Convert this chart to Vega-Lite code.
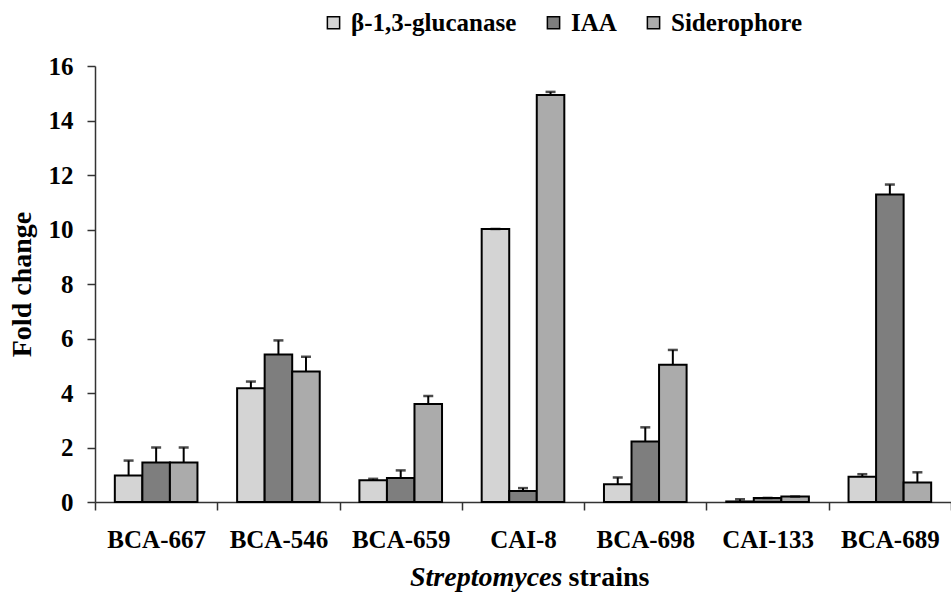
{
  "$schema": "https://vega.github.io/schema/vega-lite/v6.json",
  "width": 856,
  "height": 436,
  "autosize": {"type": "none"},
  "padding": {"left": 95, "top": 66, "right": 0, "bottom": 98},
  "background": "white",
  "title": {
    "text": "Streptomyces",
    "orient": "bottom",
    "anchor": "start",
    "frame": "group",
    "dx": 315,
    "offset": -5,
    "baseline": "alphabetic",
    "font": "Liberation Serif, Times New Roman, serif",
    "fontSize": 28,
    "fontStyle": "italic",
    "fontWeight": "bold",
    "color": "black"
  },
  "data": {
    "values": [
      {"strain": "BCA-667", "type": "β-1,3-glucanase", "value": 0.97, "err": 1.52},
      {"strain": "BCA-667", "type": "IAA", "value": 1.45, "err": 2.0},
      {"strain": "BCA-667", "type": "Siderophore", "value": 1.45, "err": 2.0},
      {"strain": "BCA-546", "type": "β-1,3-glucanase", "value": 4.17, "err": 4.42},
      {"strain": "BCA-546", "type": "IAA", "value": 5.41, "err": 5.93},
      {"strain": "BCA-546", "type": "Siderophore", "value": 4.79, "err": 5.33},
      {"strain": "BCA-659", "type": "β-1,3-glucanase", "value": 0.8, "err": 0.85},
      {"strain": "BCA-659", "type": "IAA", "value": 0.88, "err": 1.16},
      {"strain": "BCA-659", "type": "Siderophore", "value": 3.6, "err": 3.89},
      {"strain": "CAI-8", "type": "β-1,3-glucanase", "value": 10.02, "err": 10.02},
      {"strain": "CAI-8", "type": "IAA", "value": 0.4, "err": 0.51},
      {"strain": "CAI-8", "type": "Siderophore", "value": 14.94, "err": 15.05},
      {"strain": "BCA-698", "type": "β-1,3-glucanase", "value": 0.65, "err": 0.9},
      {"strain": "BCA-698", "type": "IAA", "value": 2.22, "err": 2.74},
      {"strain": "BCA-698", "type": "Siderophore", "value": 5.04, "err": 5.58},
      {"strain": "CAI-133", "type": "β-1,3-glucanase", "value": 0.02, "err": 0.1},
      {"strain": "CAI-133", "type": "IAA", "value": 0.15, "err": 0.15},
      {"strain": "CAI-133", "type": "Siderophore", "value": 0.2, "err": 0.2},
      {"strain": "BCA-689", "type": "β-1,3-glucanase", "value": 0.93, "err": 1.02},
      {"strain": "BCA-689", "type": "IAA", "value": 11.28, "err": 11.65},
      {"strain": "BCA-689", "type": "Siderophore", "value": 0.72, "err": 1.09}
    ]
  },
  "encoding": {
    "x": {
      "field": "strain",
      "type": "nominal",
      "sort": ["BCA-667", "BCA-546", "BCA-659", "CAI-8", "BCA-698", "CAI-133", "BCA-689"],
      "scale": {"paddingInner": 0, "paddingOuter": 0},
      "axis": {
        "title": "strains",
        "titleX": 473,
        "titleY": 83,
        "titleAlign": "left",
        "titleBaseline": "alphabetic",
        "titleFont": "Liberation Serif, Times New Roman, serif",
        "titleFontSize": 28,
        "titleFontWeight": "bold",
        "titleColor": "black",
        "labelAngle": 0,
        "labelFont": "Liberation Serif, Times New Roman, serif",
        "labelFontSize": 25,
        "labelFontWeight": "bold",
        "labelColor": "black",
        "labelPadding": 17,
        "labelLimit": 300,
        "tickBand": "extent",
        "tickSize": 8,
        "tickColor": "#333",
        "tickWidth": 1.5,
        "domainColor": "#333",
        "domainWidth": 1.5
      }
    },
    "xOffset": {
      "field": "type",
      "type": "nominal",
      "sort": ["β-1,3-glucanase", "IAA", "Siderophore"],
      "scale": {"paddingInner": 0, "paddingOuter": 0.72}
    }
  },
  "layer": [
    {
      "mark": {"type": "bar", "stroke": "black", "strokeWidth": 2},
      "encoding": {
        "y": {
          "field": "value",
          "type": "quantitative",
          "scale": {"domain": [0, 16], "nice": false},
          "axis": {
            "values": [0, 2, 4, 6, 8, 10, 12, 14, 16],
            "title": "Fold change",
            "titleFont": "Liberation Serif, Times New Roman, serif",
            "titleFontSize": 28,
            "titleFontWeight": "bold",
            "titleColor": "black",
            "titlePadding": 12,
            "labelFont": "Liberation Serif, Times New Roman, serif",
            "labelFontSize": 25,
            "labelFontWeight": "bold",
            "labelColor": "black",
            "labelPadding": 14,
            "tickSize": 8,
            "tickColor": "#333",
            "tickWidth": 1.5,
            "domainColor": "#333",
            "domainWidth": 1.5,
            "grid": false
          }
        },
        "fill": {
          "field": "type",
          "type": "nominal",
          "sort": ["β-1,3-glucanase", "IAA", "Siderophore"],
          "scale": {"range": ["#d4d4d4", "#7e7e7e", "#ababab"]},
          "legend": {
            "title": null,
            "orient": "none",
            "direction": "horizontal",
            "legendX": 226,
            "legendY": -56,
            "symbolType": "square",
            "symbolSize": 150,
            "symbolStrokeColor": "black",
            "symbolStrokeWidth": 1.5,
            "labelFont": "Liberation Serif, Times New Roman, serif",
            "labelFontSize": 25,
            "labelFontWeight": "bold",
            "labelColor": "black",
            "labelOffset": 5,
            "labelLimit": 300,
            "columnPadding": 24
          }
        }
      }
    },
    {
      "mark": {"type": "rule", "stroke": "black", "strokeWidth": 2},
      "encoding": {
        "y": {"field": "value", "type": "quantitative"},
        "y2": {"field": "err"}
      }
    },
    {
      "mark": {"type": "tick", "color": "black", "size": 10, "thickness": 2.5, "orient": "horizontal"},
      "encoding": {
        "y": {"field": "err", "type": "quantitative"}
      }
    }
  ],
  "config": {
    "view": {"stroke": null},
    "font": "Liberation Serif, Times New Roman, serif"
  }
}
